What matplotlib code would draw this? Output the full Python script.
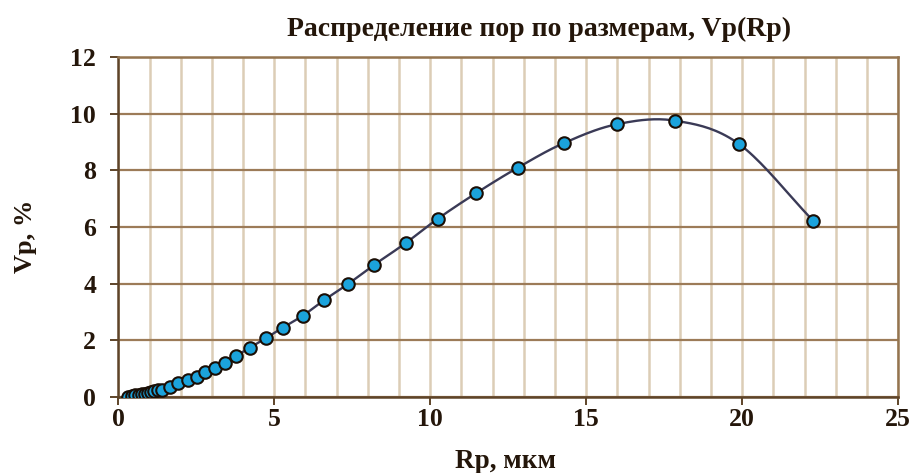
import numpy as np
import matplotlib
matplotlib.use("Agg")
import matplotlib.pyplot as plt
from matplotlib.ticker import MultipleLocator

# ---- data ----
rp = [0.32, 0.45, 0.55, 0.65, 0.75, 0.85, 0.95, 1.05, 1.15, 1.27,
      1.39, 1.66, 1.92, 2.24, 2.51, 2.78, 3.10, 3.42, 3.77, 4.22,
      4.73, 5.27, 5.91, 6.59, 7.37, 8.21, 9.21, 10.24, 11.46, 12.81,
      14.27, 15.97, 17.84, 19.90, 22.28]
vp = [0.00, 0.03, 0.05, 0.07, 0.09, 0.11, 0.13, 0.16, 0.19, 0.22,
      0.24, 0.35, 0.47, 0.59, 0.71, 0.86, 1.00, 1.20, 1.44, 1.73,
      2.07, 2.44, 2.86, 3.41, 3.99, 4.67, 5.43, 6.29, 7.19, 8.10,
      8.96, 9.63, 9.76, 8.93, 6.21]
title = "Распределение пор по размерам, Vp(Rp)"
xlabel = "Rp, мкм"
ylabel = "Vp, %"
xticks = [0, 5, 10, 15, 20, 25]
yticks = [0, 2, 4, 6, 8, 10, 12]


def smooth(x, y, n=20):
    """Parametric Catmull-Rom curve through the points (like Excel smoothing)."""
    P = np.column_stack([x, y]).astype(float)
    P = np.vstack([P[0] * 2 - P[1], P, P[-1] * 2 - P[-2]])
    out = []
    t = np.linspace(0, 1, n, endpoint=False)
    for i in range(1, len(P) - 2):
        p0, p1, p2, p3 = P[i - 1], P[i], P[i + 1], P[i + 2]
        tt = t[:, None]
        seg = 0.5 * ((2 * p1) + (-p0 + p2) * tt +
                     (2 * p0 - 5 * p1 + 4 * p2 - p3) * tt ** 2 +
                     (-p0 + 3 * p1 - 3 * p2 + p3) * tt ** 3)
        out.append(seg)
    out.append(P[-2][None, :])
    out = np.vstack(out)
    return out[:, 0], out[:, 1]


plt.rcParams['font.family'] = ['Liberation Serif', 'DejaVu Serif']
plt.rcParams['font.weight'] = 'bold'

fig = plt.figure(figsize=(9.15, 4.73), dpi=100)
ax = fig.add_axes([0.1293, 0.1613, 0.9817 - 0.1293, 0.8789 - 0.1613])

txtc = '#24160a'
spc = '#5e4429'

ax.set_xlim(0, 25)
ax.set_ylim(0, 12)
ax.xaxis.set_minor_locator(MultipleLocator(1))
ax.set_xticks(xticks)
ax.set_yticks(yticks)
ax.grid(True, which='minor', axis='x', color='#dccdb6', lw=1.8, zorder=0)
ax.grid(True, which='major', axis='x', color='#dccdb6', lw=1.8, zorder=0)
ax.grid(True, which='major', axis='y', color='#9c7b58', lw=1.6, zorder=0)
ax.set_axisbelow(True)

sx, sy = smooth(rp, vp)
ax.plot(sx, sy, color='#3a3a56', lw=1.7, zorder=2)
ax.plot(rp, vp, ls='none', marker='o', ms=9, mfc='#1ba3dc', mec='#1a0e05',
        mew=1.5, zorder=3)

for s in ax.spines.values():
    s.set_color('#94744f')
    s.set_linewidth(1.8)
ax.spines['left'].set_color(spc)
ax.spines['bottom'].set_color(spc)
ax.tick_params(axis='both', which='major', direction='out', length=6,
               width=1.4, color=spc, labelsize=18.5, labelcolor=txtc)
ax.tick_params(axis='x', which='minor', length=0)
ax.tick_params(axis='x', pad=2)
ax.tick_params(axis='y', pad=10)

fig.text(0.589, 0.937, title, ha='center', va='center', fontsize=20,
         fontweight='bold', color=txtc)
fig.text(0.552, 0.025, xlabel, ha='center', va='center', fontsize=19.5,
         fontweight='bold', color=txtc)
fig.text(0.028, 0.50, ylabel, ha='center', va='center', rotation=90,
         fontsize=19, fontweight='bold', color=txtc)

fig.savefig('out.png', dpi=100)
